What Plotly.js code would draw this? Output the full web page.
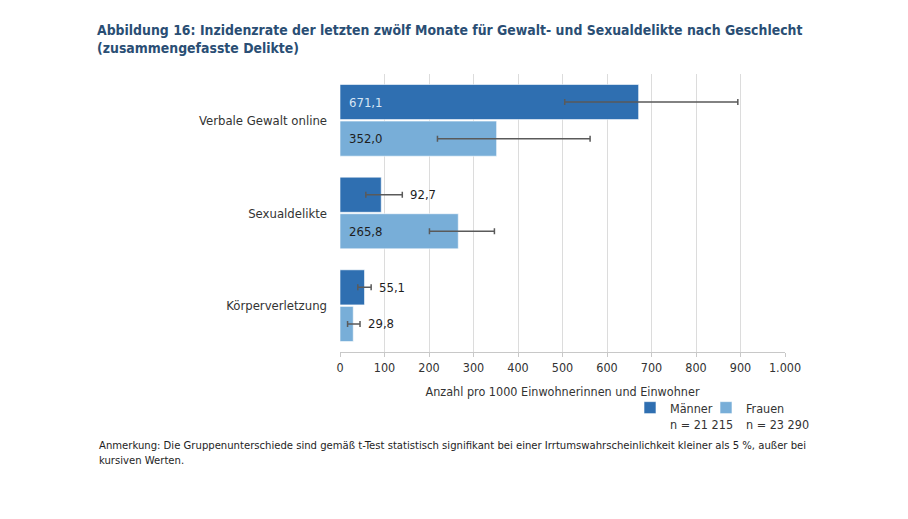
<!DOCTYPE html>
<html>
<head>
<meta charset="utf-8">
<script src="https://cdn.plot.ly/plotly-3.0.1.min.js"></script>
<style>
html,body{margin:0;padding:0;background:#fff;}
#chart{width:908px;height:519px;}
</style>
</head>
<body>
<div id="chart"></div>
<script>
const categories = ["Verbale Gewalt online", "Sexualdelikte", "Körperverletzung"];
const maenner = [671.1, 92.7, 55.1];
const frauen = [352.0, 265.8, 29.8];
const maennerLow = [505, 58, 40];
const maennerHigh = [894, 140, 70];
const frauenLow = [219, 201, 17];
const frauenHigh = [562, 347, 45];
const xTickVals = [0, 100, 200, 300, 400, 500, 600, 700, 800, 900, 1000];
const xTickText = ["0", "100", "200", "300", "400", "500", "600", "700", "800", "900", "1.000"];
const seriesNames = ["Männer<br>n = 21 215", "Frauen<br>n = 23 290"];

const FONT = "'DejaVu Sans Condensed', 'DejaVu Sans', sans-serif";
const ST = 'condensed';
const W = 908, H = 519;
const M = {l: 340, r: 123, t: 74, b: 167, autoexpand: false};
const plotW = W - M.l - M.r, plotH = H - M.t - M.b;
const px2x = p => (p - M.l) / plotW;
const px2y = p => (H - M.b - p) / plotH;

function fmt(v) { return v.toFixed(1).replace('.', ','); }
function f(size, color, extra) { return Object.assign({family: FONT, size: size, color: color, stretch: ST}, extra || {}); }

function barTrace(name, vals, lo, hi, color, legendId) {
  return {
    type: 'bar', orientation: 'h', name: name, legend: legendId,
    y: categories, x: vals,
    marker: {color: color, line: {color: 'rgba(255,255,255,0.6)', width: 1}},
    error_x: {
      type: 'data', symmetric: false,
      array: vals.map((v, i) => hi[i] - v),
      arrayminus: vals.map((v, i) => v - lo[i]),
      color: '#5a5a5a', thickness: 1.5, width: 3
    },
    hoverinfo: 'skip'
  };
}

const data = [
  barTrace(seriesNames[0], maenner, maennerLow, maennerHigh, '#2f6fb1', 'legend'),
  barTrace(seriesNames[1], frauen, frauenLow, frauenHigh, '#78aed8', 'legend2')
];

const annotations = [];
const groupOff = 0.197;
[[maenner, maennerHigh, -groupOff, '#d6e6f5'], [frauen, frauenHigh, groupOff, '#1e1e1e']].forEach(([vals, hi, off, inColor]) => {
  vals.forEach((v, i) => {
    const inside = v > 200;
    annotations.push({
      xref: 'x', yref: 'y',
      x: inside ? 0 : hi[i], y: i + off,
      xanchor: 'left', yanchor: 'middle',
      xshift: inside ? 7 : 6,
      text: fmt(v), showarrow: false,
      font: f(13, inside ? inColor : '#1e1e1e')
    });
  });
});

annotations.push({
  xref: 'paper', yref: 'paper',
  x: px2x(97), y: px2y(437),
  xanchor: 'left', yanchor: 'top', align: 'left',
  text: "Anmerkung: Die Gruppenunterschiede sind gemäß t-Test statistisch signifikant bei einer Irrtumswahrscheinlichkeit kleiner als 5 %, außer bei<br>kursiven Werten.",
  showarrow: false,
  font: f(11.2, '#1e1e1e')
});

function legendAt(px) {
  return {
    orientation: 'h',
    x: px2x(px), xanchor: 'left',
    y: px2y(393), yanchor: 'top',
    valign: 'top',
    itemwidth: 30,
    font: f(12.5, '#333'),
    bgcolor: 'rgba(0,0,0,0)'
  };
}

const layout = {
  width: W, height: H,
  margin: M,
  paper_bgcolor: '#fff', plot_bgcolor: '#fff',
  font: f(13, '#333'),
  title: {
    text: "Abbildung 16: Inzidenzrate der letzten zwölf Monate für Gewalt- und Sexualdelikte nach Geschlecht<br>(zusammengefasste Delikte)",
    xref: 'container', yref: 'container',
    x: 97 / W, xanchor: 'left',
    y: 1 - 35 / H, yanchor: 'top',
    font: f(13.9, '#2a4e74', {weight: 'bold'})
  },
  barmode: 'group',
  bargap: 0.21,
  bargroupgap: 0.04,
  xaxis: {
    range: [0, 1000],
    tickvals: xTickVals, ticktext: xTickText,
    showgrid: true, gridcolor: '#dcdcdc', gridwidth: 1,
    zeroline: false,
    showline: true, linecolor: '#c8c8c8', linewidth: 1,
    ticks: 'outside', ticklen: 4, tickcolor: '#c8c8c8',
    tickfont: f(12.5, '#333'),
    title: {text: "Anzahl pro 1000 Einwohnerinnen und Einwohner", standoff: 13,
            font: f(12.5, '#333')},
    fixedrange: true
  },
  yaxis: {
    autorange: 'reversed',
    showgrid: false, zeroline: false, showline: false,
    ticks: '', ticklabelstandoff: 12,
    tickfont: f(13, '#333'),
    fixedrange: true
  },
  showlegend: true,
  legend: legendAt(630),
  legend2: legendAt(706),
  annotations: annotations
};

Plotly.newPlot('chart', data, layout, {displayModeBar: false, staticPlot: true});
</script>
</body>
</html>
